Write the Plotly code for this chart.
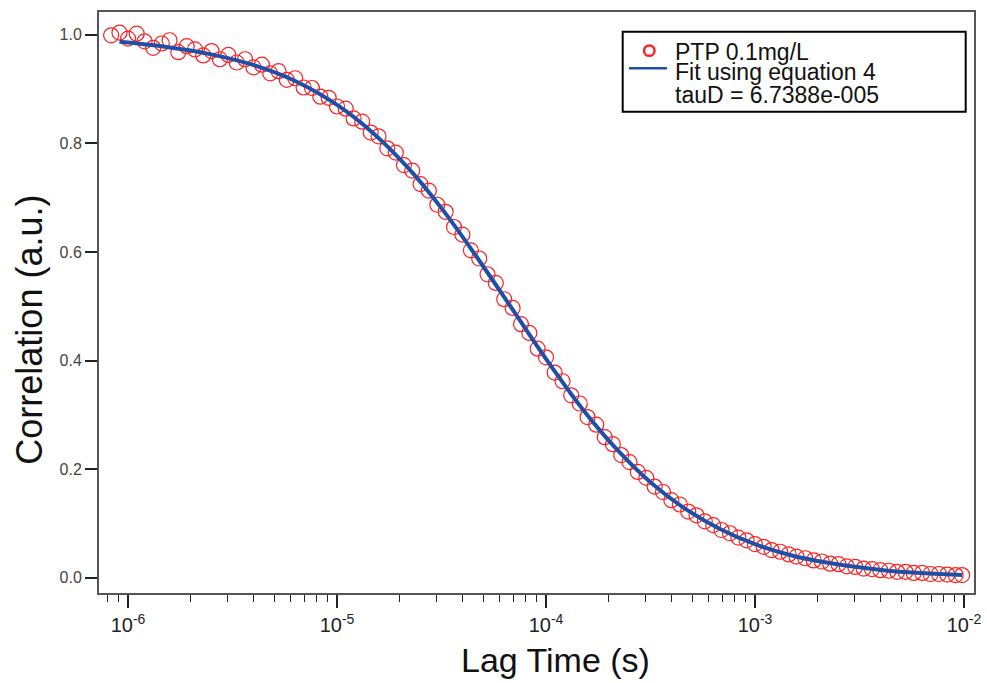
import plotly.graph_objects as go

lag_time = [
    8.3e-7, 9.1e-7, 1.0e-6, 1.1e-6, 1.2e-6, 1.32e-6, 1.45e-6, 1.58e-6, 1.74e-6, 1.91e-6,
    2.09e-6, 2.29e-6, 2.51e-6, 2.75e-6, 3.02e-6, 3.31e-6, 3.63e-6, 3.98e-6, 4.37e-6, 4.79e-6,
    5.25e-6, 5.75e-6, 6.31e-6, 6.92e-6, 7.59e-6, 8.32e-6, 9.12e-6,
    1.0e-5, 1.1e-5, 1.2e-5, 1.32e-5, 1.45e-5, 1.58e-5, 1.74e-5, 1.91e-5,
    2.09e-5, 2.29e-5, 2.51e-5, 2.75e-5, 3.02e-5, 3.31e-5, 3.63e-5, 3.98e-5, 4.37e-5, 4.79e-5,
    5.25e-5, 5.75e-5, 6.31e-5, 6.92e-5, 7.59e-5, 8.32e-5, 9.12e-5,
    1.0e-4, 1.1e-4, 1.2e-4, 1.32e-4, 1.45e-4, 1.58e-4, 1.74e-4, 1.91e-4,
    2.09e-4, 2.29e-4, 2.51e-4, 2.75e-4, 3.02e-4, 3.31e-4, 3.63e-4, 3.98e-4, 4.37e-4, 4.79e-4,
    5.25e-4, 5.75e-4, 6.31e-4, 6.92e-4, 7.59e-4, 8.32e-4, 9.12e-4,
    1.0e-3, 1.1e-3, 1.2e-3, 1.32e-3, 1.45e-3, 1.58e-3, 1.74e-3, 1.91e-3,
    2.09e-3, 2.29e-3, 2.51e-3, 2.75e-3, 3.02e-3, 3.31e-3, 3.63e-3, 3.98e-3, 4.37e-3, 4.79e-3,
    5.25e-3, 5.75e-3, 6.31e-3, 6.92e-3, 7.59e-3, 8.32e-3, 9.12e-3, 9.8e-3,
]
correlation = [
    0.999, 1.004, 0.993, 1.002, 0.988, 0.976, 0.984, 0.990, 0.968, 0.979,
    0.973, 0.962, 0.970, 0.955, 0.963, 0.949, 0.955, 0.940, 0.945, 0.929,
    0.933, 0.917, 0.920, 0.903, 0.902, 0.886, 0.884,
    0.868, 0.864, 0.846, 0.840, 0.820, 0.813, 0.791, 0.783,
    0.760, 0.750, 0.725, 0.713, 0.687, 0.674, 0.646, 0.632, 0.603, 0.588,
    0.559, 0.543, 0.513, 0.497, 0.467, 0.451, 0.422,
    0.406, 0.378, 0.362, 0.336, 0.321, 0.296, 0.282, 0.259,
    0.246, 0.226, 0.213, 0.195, 0.184, 0.168, 0.158, 0.143, 0.135, 0.122,
    0.115, 0.104, 0.097, 0.088, 0.082, 0.074, 0.069,
    0.062, 0.057, 0.051, 0.048, 0.043, 0.039, 0.036, 0.032,
    0.030, 0.026, 0.025, 0.021, 0.020, 0.017, 0.016, 0.014, 0.013, 0.011,
    0.011, 0.009, 0.009, 0.007, 0.007, 0.006, 0.005, 0.005,
]

# fitted curve (equation 4)
fit_time = [9.1e-7, 1.5e-6, 2.5e-6, 4.0e-6, 6.3e-6, 1.0e-5, 1.5e-5, 2.2e-5, 3.2e-5, 4.6e-5,
            6.7e-5, 1.0e-4, 1.5e-4, 2.2e-4, 3.2e-4, 4.6e-4, 6.8e-4, 1.0e-3, 1.5e-3, 2.2e-3,
            3.2e-3, 4.6e-3, 6.8e-3, 9.8e-3]
fit_corr = [0.987, 0.978, 0.964, 0.944, 0.915, 0.871, 0.818, 0.754, 0.678, 0.594,
            0.502, 0.403, 0.310, 0.235, 0.174, 0.128, 0.090, 0.062, 0.041, 0.028,
            0.019, 0.012, 0.008, 0.005]

x_ticks = [1e-6, 1e-5, 1e-4, 1e-3, 1e-2]
x_ticktext = ["10<sup>-6</sup>", "10<sup>-5</sup>", "10<sup>-4</sup>", "10<sup>-3</sup>", "10<sup>-2</sup>"]
y_ticks = [0.0, 0.2, 0.4, 0.6, 0.8, 1.0]

legend_rows = ["PTP 0.1mg/L", "Fit using equation 4", "tauD = 6.7388e-005"]

FONT = "Liberation Sans, Arial, sans-serif"
AXIS_COL = "#555555"
RED = "#ff2020"
BLUE = "#1e50a8"

fig = go.Figure()
fig.add_trace(go.Scatter(
    x=lag_time, y=correlation, mode="markers", name=legend_rows[0],
    marker=dict(symbol="circle-open", size=15, color=RED, line=dict(width=1.2)),
))
fig.add_trace(go.Scatter(
    x=fit_time, y=fit_corr, mode="lines", name=legend_rows[1],
    line=dict(color=BLUE, width=4, shape="spline"),
))

fig.update_layout(
    width=987, height=683,
    margin=dict(l=99, r=13, t=12, b=90),
    paper_bgcolor="white", plot_bgcolor="white",
    font=dict(family=FONT, color="#222222"),
    showlegend=False,
    xaxis=dict(
        type="log", range=[-6.139, -1.952], automargin=False,
        tickvals=x_ticks, ticktext=x_ticktext,
        ticks="outside", ticklen=13, tickwidth=1.5, tickcolor="#222222",
        minor=dict(dtick="D1", ticks="outside", ticklen=7, tickwidth=1.2, tickcolor="#222222"),
        showgrid=False, zeroline=False,
        showline=True, linecolor=AXIS_COL, linewidth=2, mirror=True,
        tickfont=dict(size=20, color="#222222"),
    ),
    yaxis=dict(
        range=[-0.028, 1.042], automargin=False,
        tickvals=y_ticks, tickformat=".1f",
        ticks="outside", ticklen=12, tickwidth=1.5, tickcolor="#222222",
        showgrid=False, zeroline=False,
        showline=True, linecolor=AXIS_COL, linewidth=2, mirror=True,
        tickfont=dict(size=16, color="#444444"),
    ),
)

# axis titles sit a little off-centre in the original, so place them directly
fig.add_annotation(text="Lag Time (s)", xref="paper", yref="paper", x=0.522, y=-0.115,
                   xanchor="center", yanchor="middle", showarrow=False,
                   font=dict(family=FONT, size=34, color="#111111"))
fig.add_annotation(text="Correlation (a.u.)", xref="paper", yref="paper", x=-0.079, y=0.453,
                   xanchor="center", yanchor="middle", showarrow=False, textangle=-90,
                   font=dict(family=FONT, size=36, color="#111111"))

# legend box drawn by hand: the original packs its rows tighter than plotly's legend can
fig.add_shape(type="rect", xref="paper", yref="paper", x0=0.5985, x1=0.9905, y0=0.8284, y1=0.9661,
              line=dict(color="black", width=2), fillcolor="white", layer="above")
fig.add_shape(type="circle", xref="paper", yref="paper", x0=0.6229, x1=0.6349, y0=0.9245, y1=0.9425,
              line=dict(color=RED, width=2.5), layer="above")
fig.add_shape(type="line", xref="paper", yref="paper", x0=0.6057, x1=0.6491, y0=0.9031, y1=0.9031,
              line=dict(color=BLUE, width=2.5), layer="above")
for row, ypos in zip(legend_rows, [0.9315, 0.8962, 0.8575]):
    fig.add_annotation(text=row, xref="paper", yref="paper", x=0.656, y=ypos,
                       xanchor="left", yanchor="middle", showarrow=False,
                       font=dict(family=FONT, size=23, color="#111111"))

fig.write_html("out.html", config={"displayModeBar": False},
               post_script="document.body.style.margin='0px';")
